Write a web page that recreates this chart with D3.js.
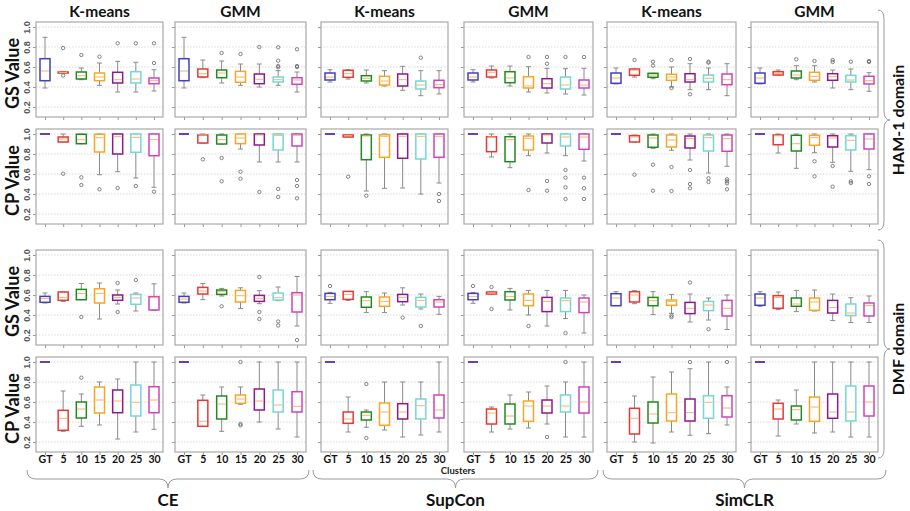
<!DOCTYPE html>
<html>
<head>
<meta charset="utf-8">
<script src="https://cdn.jsdelivr.net/npm/d3@7"></script>
<style>
  body { margin: 0; background: #fff; }
  svg { display: block; font-family: Lato, "Open Sans", sans-serif; }
</style>
</head>
<body>
<svg id="chart" width="910" height="511"></svg>
<script>
// categories / labels
const categories = ["GT", "5", "10", "15", "20", "25", "30"];
const boxColors = ["#4141b8", "#e53935", "#1f8a1f", "#f6a623", "#8b1a8b", "#74d8d0", "#cc44bb"];
const methods = ["K-means", "GMM", "K-means", "GMM", "K-means", "GMM"];
const losses = ["CE", "SupCon", "SimCLR"];
const rowLabels = ["GS Value", "CP Value", "GS Value", "CP Value"];
const domainLabels = ["HAM-1 domain", "DMF domain"];
const yTicks = [0.2, 0.4, 0.6, 0.8, 1.0];

// each box: [whiskerLow, q1, median, q3, whiskerHigh, outliers]
// GS value, HAM-1
const gsHamCeKm = [[0.39,0.463,0.56,0.683,0.897,[]],[0.54,0.54,0.545,0.55,0.55,[0.79,0.515]],[0.473,0.48,0.513,0.55,0.59,[0.72]],[0.417,0.463,0.5,0.54,0.64,[0.703]],[0.35,0.44,0.473,0.547,0.657,[0.837]],[0.35,0.44,0.48,0.553,0.647,[0.837]],[0.36,0.433,0.463,0.49,0.573,[0.837,0.64]]];
const gsHamCeGmm = [[0.39,0.463,0.56,0.683,0.897,[]],[0.493,0.5,0.533,0.58,0.67,[]],[0.44,0.493,0.54,0.57,0.66,[0.74]],[0.417,0.447,0.5,0.557,0.63,[0.73]],[0.4,0.433,0.477,0.53,0.63,[0.8]],[0.417,0.45,0.473,0.5,0.563,[0.797,0.663,0.61,0.597]],[0.35,0.427,0.47,0.493,0.55,[0.777,0.61,0.6]]];
const gsHamScKm = [[0.45,0.47,0.5,0.54,0.573,[]],[0.48,0.497,0.533,0.567,0.573,[]],[0.44,0.46,0.487,0.513,0.57,[]],[0.41,0.42,0.46,0.507,0.563,[]],[0.367,0.41,0.473,0.53,0.607,[]],[0.313,0.38,0.42,0.46,0.563,[0.693]],[0.33,0.393,0.423,0.467,0.563,[]]];
const gsHamScGmm = [[0.45,0.47,0.5,0.54,0.573,[]],[0.49,0.5,0.547,0.57,0.61,[]],[0.41,0.443,0.49,0.553,0.61,[]],[0.35,0.39,0.41,0.503,0.603,[0.7]],[0.34,0.39,0.433,0.483,0.587,[0.7,0.633]],[0.33,0.38,0.42,0.5,0.583,[0.7]],[0.32,0.39,0.42,0.47,0.587,[0.7]]];
const gsHamSiKm = [[0.43,0.437,0.49,0.54,0.59,[]],[0.5,0.517,0.567,0.58,0.58,[0.67]],[0.483,0.497,0.52,0.537,0.537,[0.653,0.613]],[0.4,0.467,0.5,0.527,0.6,[0.67,0.39]],[0.373,0.45,0.473,0.533,0.633,[0.68,0.327]],[0.373,0.45,0.487,0.52,0.59,[0.653,0.643]],[0.313,0.423,0.473,0.53,0.633,[]]];
const gsHamSiGmm = [[0.43,0.437,0.49,0.54,0.59,[]],[0.52,0.52,0.537,0.553,0.57,[]],[0.473,0.49,0.52,0.56,0.613,[0.677]],[0.45,0.467,0.507,0.547,0.613,[0.66]],[0.39,0.467,0.503,0.533,0.57,[0.67,0.65]],[0.373,0.45,0.47,0.517,0.58,[0.653]],[0.357,0.43,0.463,0.507,0.543,[0.66,0.65]]];
// CP value, HAM-1
const cpHamCeKm = [[1,1,1,1,1,[]],[0.92,0.92,0.95,0.97,1,[0.603]],[0.903,0.903,0.943,0.997,1,[0.567,0.49]],[0.593,0.82,0.963,0.997,1,[0.447]],[0.623,0.8,0.973,1,1,[0.46]],[0.56,0.817,0.967,1,1,[0.48]],[0.467,0.783,0.943,1,1,[0.423]]];
const cpHamCeGmm = [[1,1,1,1,1,[]],[0.91,0.91,0.99,0.99,1,[0.747]],[0.9,0.9,0.943,0.99,1,[0.76,0.527]],[0.85,0.903,0.96,1,1,[0.623,0.553]],[0.72,0.89,0.99,1,1,[0.42]],[0.72,0.84,0.987,1,1,[0.45,0.37]],[0.72,0.88,0.987,1,1,[0.54,0.48,0.357]]];
const cpHamScKm = [[1,1,1,1,1,[]],[0.97,0.97,0.983,0.99,0.99,[0.573]],[0.43,0.743,0.98,0.99,1,[0.383]],[0.457,0.767,0.977,0.993,1,[]],[0.46,0.757,0.977,1,1,[]],[0.4,0.75,0.977,1,1,[]],[0.51,0.767,0.977,1,1,[0.4,0.33]]];
const cpHamScGmm = [[1,1,1,1,1,[]],[0.77,0.823,0.97,0.973,1,[]],[0.663,0.723,0.943,0.973,1,[]],[0.783,0.84,0.957,0.98,1,[0.44]],[0.81,0.91,0.99,1,1,[0.53,0.433]],[0.783,0.88,0.97,1,1,[0.64,0.563,0.467,0.35]],[0.73,0.847,0.97,1,1,[0.563,0.457,0.35]]];
const cpHamSiKm = [[1,1,1,1,1,[]],[0.92,0.92,0.97,0.983,0.99,[0.593]],[0.857,0.867,0.96,0.99,1,[0.693,0.433]],[0.837,0.87,0.94,0.99,1,[0.67,0.43]],[0.74,0.86,0.953,0.98,1,[0.64,0.5,0.457]],[0.61,0.83,0.963,0.99,1,[0.557,0.52]],[0.677,0.827,0.953,0.99,1,[0.547,0.527,0.507,0.447]]];
const cpHamSiGmm = [[1,1,1,1,1,[]],[0.81,0.893,0.983,0.99,1,[]],[0.657,0.83,0.903,0.987,1,[]],[0.813,0.887,0.963,0.987,1,[0.727,0.577]],[0.717,0.87,0.96,0.983,1,[0.68,0.473]],[0.627,0.84,0.937,0.983,1,[0.527,0.51]],[0.643,0.85,0.95,1,1,[0.577,0.5]]];
// GS value, DMF
const gsDmfCeKm = [[0.52,0.527,0.563,0.586,0.62,[]],[0.536,0.547,0.576,0.63,0.63,[]],[0.553,0.553,0.616,0.656,0.715,[0.38]],[0.36,0.52,0.616,0.662,0.72,[]],[0.51,0.547,0.576,0.6,0.65,[0.72,0.43]],[0.44,0.507,0.57,0.606,0.62,[0.75]],[0.444,0.45,0.576,0.583,0.712,[]]];
const gsDmfCeGmm = [[0.52,0.527,0.56,0.586,0.62,[]],[0.553,0.61,0.64,0.676,0.715,[]],[0.59,0.606,0.633,0.65,0.666,[0.487]],[0.464,0.53,0.593,0.646,0.672,[]],[0.513,0.536,0.566,0.596,0.643,[0.78,0.43,0.36]],[0.543,0.55,0.573,0.62,0.68,[0.335,0.295]],[0.29,0.43,0.6,0.623,0.785,[0.149]]];
const gsDmfScKm = [[0.517,0.553,0.586,0.616,0.626,[0.69]],[0.546,0.556,0.606,0.636,0.636,[]],[0.424,0.477,0.543,0.58,0.633,[]],[0.424,0.487,0.536,0.58,0.62,[]],[0.5,0.533,0.576,0.606,0.672,[0.374]],[0.46,0.48,0.546,0.576,0.61,[0.29]],[0.407,0.48,0.53,0.553,0.586,[]]];
const gsDmfScGmm = [[0.517,0.553,0.586,0.616,0.626,[0.69]],[0.61,0.61,0.62,0.63,0.63,[0.68,0.46]],[0.45,0.55,0.583,0.633,0.666,[]],[0.4,0.493,0.546,0.61,0.646,[0.29]],[0.29,0.434,0.536,0.576,0.646,[]],[0.364,0.434,0.543,0.57,0.646,[0.22]],[0.22,0.424,0.53,0.57,0.6,[]]];
const gsDmfSiKm = [[0.493,0.493,0.57,0.613,0.633,[]],[0.513,0.53,0.6,0.633,0.643,[]],[0.404,0.493,0.543,0.576,0.633,[]],[0.417,0.497,0.536,0.55,0.606,[0.394,0.378]],[0.33,0.414,0.467,0.526,0.61,[0.725]],[0.35,0.444,0.5,0.536,0.57,[0.258]],[0.255,0.39,0.467,0.546,0.6,[]]];
const gsDmfSiGmm = [[0.487,0.497,0.57,0.61,0.633,[]],[0.454,0.467,0.576,0.593,0.63,[]],[0.434,0.487,0.51,0.57,0.646,[]],[0.44,0.447,0.53,0.57,0.65,[]],[0.344,0.42,0.474,0.546,0.61,[]],[0.325,0.394,0.42,0.51,0.573,[]],[0.325,0.39,0.494,0.52,0.59,[]]];
// CP value, DMF
const cpDmfCeKm = [[1,1,1,1,1,[]],[0.307,0.317,0.437,0.517,0.71,[]],[0.357,0.44,0.53,0.6,0.68,[0.843]],[0.37,0.49,0.62,0.75,0.8,[]],[0.23,0.493,0.61,0.72,0.83,[]],[0.3,0.46,0.597,0.77,1,[]],[0.327,0.493,0.62,0.753,1,[]]];
const cpDmfCeGmm = [[1,1,1,1,1,[]],[0.357,0.357,0.407,0.617,0.67,[]],[0.307,0.43,0.58,0.66,0.75,[]],[0.577,0.587,0.63,0.67,0.75,[1.0,0.38,0.367]],[0.4,0.52,0.61,0.73,1,[]],[0.33,0.5,0.57,0.72,1,[]],[0.25,0.5,0.557,0.703,1,[]]];
const cpDmfScKm = [[1,1,1,1,1,[]],[0.3,0.387,0.43,0.5,0.65,[]],[0.347,0.42,0.467,0.5,0.52,[0.78,0.24]],[0.32,0.367,0.5,0.59,0.8,[]],[0.25,0.43,0.5,0.583,0.8,[]],[0.27,0.43,0.563,0.63,0.8,[]],[0.3,0.44,0.52,0.67,1,[]]];
const cpDmfScGmm = [[1,1,1,1,1,[]],[0.3,0.38,0.49,0.53,0.55,[]],[0.33,0.38,0.46,0.58,0.67,[]],[0.34,0.407,0.56,0.61,0.7,[]],[0.38,0.49,0.56,0.62,0.76,[0.25]],[0.25,0.5,0.56,0.67,0.8,[1.0]],[0.25,0.49,0.6,0.75,1,[]]];
const cpDmfSiKm = [[1,1,1,1,1,[]],[0.2,0.28,0.437,0.537,0.66,[]],[0.19,0.39,0.48,0.6,0.85,[]],[0.3,0.41,0.493,0.68,0.9,[]],[0.267,0.41,0.493,0.63,0.933,[1.0]],[0.283,0.437,0.597,0.663,1,[]],[0.37,0.45,0.54,0.663,0.75,[1.0]]];
const cpDmfSiGmm = [[1,1,1,1,1,[]],[0.26,0.43,0.53,0.587,0.62,[]],[0.38,0.42,0.523,0.56,0.72,[]],[0.29,0.407,0.55,0.65,1,[]],[0.3,0.437,0.5,0.68,1,[]],[0.25,0.41,0.5,0.76,1,[]],[0.25,0.46,0.6,0.76,1,[]]];

const grid = [
  [gsHamCeKm, gsHamCeGmm, gsHamScKm, gsHamScGmm, gsHamSiKm, gsHamSiGmm],
  [cpHamCeKm, cpHamCeGmm, cpHamScKm, cpHamScGmm, cpHamSiKm, cpHamSiGmm],
  [gsDmfCeKm, gsDmfCeGmm, gsDmfScKm, gsDmfScGmm, gsDmfSiKm, gsDmfSiGmm],
  [cpDmfCeKm, cpDmfCeGmm, cpDmfScKm, cpDmfScGmm, cpDmfSiKm, cpDmfSiGmm]
];

// layout
const colLeft = [36, 175, 321, 464, 607, 751];
const colRight = [163, 306, 448, 593, 736, 878];
const rowTop = [22, 129, 250, 357];
const panelH = 95;
const boxW = 10;

const svg = d3.select("#chart");

function hBrace(x0, x1, y0, h) {
  const xm = (x0 + x1) / 2, r = 9, ym = y0 + h / 2;
  return `M${x0},${y0} Q${x0},${ym} ${x0 + r},${ym} L${xm - r},${ym} Q${xm},${ym} ${xm},${y0 + h}` +
         ` Q${xm},${ym} ${xm + r},${ym} L${x1 - r},${ym} Q${x1},${ym} ${x1},${y0}`;
}
function vBrace(y0, y1, x0, w) {
  const ym = (y0 + y1) / 2, r = 9, xm = x0 + w / 2;
  return `M${x0},${y0} Q${xm},${y0} ${xm},${y0 + r} L${xm},${ym - r} Q${xm},${ym} ${x0 + w},${ym}` +
         ` Q${xm},${ym} ${xm},${ym + r} L${xm},${y1 - r} Q${xm},${y1} ${x0},${y1}`;
}

grid.forEach((row, ri) => {
  const top = rowTop[ri];
  const y = d3.scaleLinear().domain([0.1, 1.05]).range([top + panelH, top]);

  row.forEach((boxes, ci) => {
    const left = colLeft[ci], right = colRight[ci];
    const x = d3.scalePoint().domain(categories).range([left + 9, right - 9]);
    const g = svg.append("g");

    // dotted grid
    g.selectAll(".grid").data(yTicks).enter().append("line")
      .attr("x1", left).attr("x2", right)
      .attr("y1", d => y(d)).attr("y2", d => y(d))
      .attr("stroke", "#cfcfcf").attr("stroke-width", 0.8).attr("stroke-dasharray", "1.5,1.5");

    const yAxis = g.append("g").attr("transform", `translate(${left},0)`)
      .call(d3.axisLeft(y).tickValues(yTicks).tickSize(3).tickFormat(d3.format(".1f")));
    yAxis.select(".domain").remove();
    yAxis.selectAll(".tick line").attr("stroke", "#999");
    if (ci === 0) {
      yAxis.selectAll(".tick text")
        .attr("transform", "translate(-6,0) rotate(-90)")
        .attr("x", 0).attr("y", 0).attr("dy", 0)
        .attr("text-anchor", "middle")
        .attr("font-size", 9).attr("font-weight", "bold").attr("fill", "#555");
    } else {
      yAxis.selectAll(".tick text").remove();
    }

    const xAxis = g.append("g").attr("transform", `translate(0,${top + panelH})`)
      .call(d3.axisBottom(x).tickSize(3));
    xAxis.select(".domain").remove();
    xAxis.selectAll(".tick line").attr("stroke", "#999");
    if (ri === 3) {
      xAxis.selectAll(".tick text").attr("y", 11).attr("dy", 0)
        .attr("font-size", 10.5).attr("font-weight", "bold").attr("fill", "#111")
        .attr("font-family", "Lato, 'Open Sans', sans-serif");
    } else {
      xAxis.selectAll(".tick text").remove();
    }

    boxes.forEach((b, i) => {
      const [lo, q1, med, q3, hi, outs] = b;
      const cx = x(categories[i]);
      const col = boxColors[i];
      g.append("line").attr("x1", cx).attr("x2", cx).attr("y1", y(q3)).attr("y2", y(hi))
        .attr("stroke", "#8a8a8a").attr("stroke-width", 1);
      g.append("line").attr("x1", cx).attr("x2", cx).attr("y1", y(q1)).attr("y2", y(lo))
        .attr("stroke", "#8a8a8a").attr("stroke-width", 1);
      [lo, hi].forEach(v => {
        g.append("line").attr("x1", cx - 2.5).attr("x2", cx + 2.5).attr("y1", y(v)).attr("y2", y(v))
          .attr("stroke", "#8a8a8a").attr("stroke-width", 1);
      });
      const h = y(q1) - y(q3);
      if (h < 0.5) {
        // collapsed box (e.g. GT = 1.0): box edge and median overlap
        g.append("line").attr("x1", cx - boxW / 2).attr("x2", cx + boxW / 2)
          .attr("y1", y(q3)).attr("y2", y(q3)).attr("stroke", "#6a3fb0").attr("stroke-width", 2);
      } else {
        g.append("rect").attr("x", cx - boxW / 2).attr("y", y(q3))
          .attr("width", boxW).attr("height", h)
          .attr("fill", "#fff").attr("stroke", col).attr("stroke-width", 1.5);
        g.append("line").attr("x1", cx - boxW / 2 + 1).attr("x2", cx + boxW / 2 - 1)
          .attr("y1", y(med)).attr("y2", y(med)).attr("stroke", "#f5b26b").attr("stroke-width", 1);
      }
      g.selectAll(null).data(outs).enter().append("circle")
        .attr("cx", cx).attr("cy", d => y(d)).attr("r", 1.7)
        .attr("fill", "none").attr("stroke", "#666").attr("stroke-width", 0.8);
    });

    g.append("rect").attr("x", left).attr("y", top)
      .attr("width", right - left).attr("height", panelH)
      .attr("fill", "none").attr("stroke", "#a8a8a8").attr("stroke-width", 1.2);

    if (ri === 0) {
      svg.append("text").attr("x", (left + right) / 2).attr("y", 17)
        .attr("text-anchor", "middle").attr("font-size", 15.5).attr("font-weight", "bold")
        .attr("fill", "#111").text(methods[ci]);
    }
  });

  svg.append("text")
    .attr("transform", `translate(19,${top + panelH / 2 + 4}) rotate(-90)`)
    .attr("text-anchor", "middle").attr("font-size", 18).attr("font-weight", "bold")
    .attr("fill", "#111").text(rowLabels[ri]);
});

svg.append("text").attr("x", 458).attr("y", 474).attr("text-anchor", "middle")
  .attr("font-size", 9.5).attr("font-weight", "bold").attr("fill", "#222").text("Clusters");

const braceSpans = [[27, 309], [313, 598], [603, 886]];
braceSpans.forEach((s, i) => {
  svg.append("path").attr("d", hBrace(s[0], s[1], 470, 18))
    .attr("fill", "none").attr("stroke", "#9a9a9a").attr("stroke-width", 1);
  svg.append("text").attr("x", (s[0] + s[1]) / 2).attr("y", 506).attr("text-anchor", "middle")
    .attr("font-size", 17).attr("font-weight", "bold").attr("fill", "#111").text(losses[i]);
});

const domainSpans = [[10, 230], [240, 458]];
domainSpans.forEach((s, i) => {
  svg.append("path").attr("d", vBrace(s[0], s[1], 878, 12))
    .attr("fill", "none").attr("stroke", "#9a9a9a").attr("stroke-width", 1);
  svg.append("text")
    .attr("transform", `translate(904,${(s[0] + s[1]) / 2}) rotate(-90)`)
    .attr("text-anchor", "middle").attr("font-size", 16).attr("font-weight", "bold")
    .attr("fill", "#111").text(domainLabels[i]);
});
</script>
</body>
</html>
